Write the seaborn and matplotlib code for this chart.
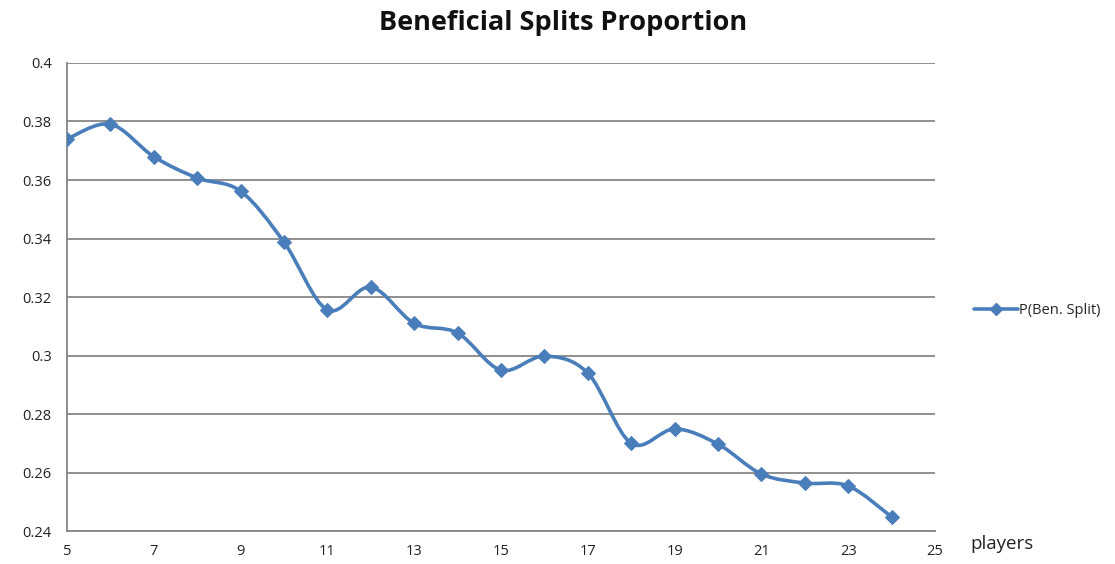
import numpy as np
import matplotlib
matplotlib.use("Agg")
import matplotlib.pyplot as plt
import seaborn as sns
from matplotlib.path import Path
from matplotlib.patches import PathPatch
from matplotlib.lines import Line2D
from matplotlib.ticker import FuncFormatter

# Data
players = [5, 6, 7, 8, 9, 10, 11, 12, 13, 14, 15, 16, 17, 18, 19, 20, 21, 22, 23, 24]
p_ben_split = [0.374, 0.3791, 0.368, 0.3607, 0.3562, 0.3388, 0.3156, 0.3234, 0.311, 0.3077,
               0.295, 0.2998, 0.294, 0.270, 0.2749, 0.2697, 0.2595, 0.2564, 0.2554, 0.2448]
x_ticks = [5, 7, 9, 11, 13, 15, 17, 19, 21, 23, 25]
y_ticks = [0.24, 0.26, 0.28, 0.30, 0.32, 0.34, 0.36, 0.38, 0.40]

blue = "#4A7EBB"
grey = "#868686"

sns.set_style("white")
plt.rcParams['font.family'] = ['Open Sans', 'DejaVu Sans']

fig = plt.figure(figsize=(11.15, 5.64), dpi=100)
ax = fig.add_axes([0.060, 0.0585, 0.7786, 0.8298])

# smoothed line like Excel: cubic bezier segments through the points
pts = np.column_stack([players, p_ben_split]).astype(float)
verts = [tuple(pts[0])]
codes = [Path.MOVETO]
n = len(pts)
for i in range(n - 1):
    p0 = pts[i - 1] if i > 0 else pts[i]
    p1 = pts[i]
    p2 = pts[i + 1]
    p3 = pts[i + 2] if i + 2 < n else pts[i + 1]
    c1 = p1 + (p2 - p0) / 6.0
    c2 = p2 - (p3 - p1) / 6.0
    verts += [tuple(c1), tuple(c2), tuple(p2)]
    codes += [Path.CURVE4] * 3
ax.add_patch(PathPatch(Path(verts, codes), facecolor="none", edgecolor=blue,
                       linewidth=2.6, zorder=3, capstyle="round", joinstyle="round"))

sns.lineplot(x=players, y=p_ben_split, ax=ax, marker="D", markersize=7.5,
             linewidth=0, color=blue, markeredgecolor=blue, zorder=4)

ax.set_xlim(5, 25)
ax.set_ylim(0.24, 0.40)
ax.set_xticks(x_ticks)
ax.set_yticks(y_ticks)
ax.yaxis.set_major_formatter(FuncFormatter(lambda v, _: ("%g" % round(v, 2))))

ax.grid(axis="y", color=grey, linewidth=1.3)
ax.grid(axis="x", visible=False)
ax.set_axisbelow(True)
for s in ["top", "right"]:
    ax.spines[s].set_visible(False)
for s in ["left", "bottom"]:
    ax.spines[s].set_color(grey)
    ax.spines[s].set_linewidth(1.3)
ax.tick_params(axis="both", which="major", length=5, width=1.2, color=grey,
               labelsize=10.5, labelcolor="#222222", direction="out")
ax.tick_params(axis="y", pad=6)
ax.tick_params(axis="x", pad=4)
ax.set_xlabel("")
ax.set_ylabel("")

fig.text(0.505, 0.960, "Beneficial Splits Proportion", ha="center", va="center",
         fontsize=19.5, fontweight="bold", color="#111111")
fig.text(0.870, 0.035, "players", ha="left", va="center", fontsize=13.5, color="#222222")

handle = Line2D([], [], color=blue, linewidth=2.6, marker="D", markersize=6.5)
leg = fig.legend([handle], ["P(Ben. Split)"], loc="center left",
                 bbox_to_anchor=(0.862, 0.45), frameon=False, fontsize=10.5,
                 handlelength=3.0, handletextpad=0.1)

fig.savefig("out.png", dpi=100)
